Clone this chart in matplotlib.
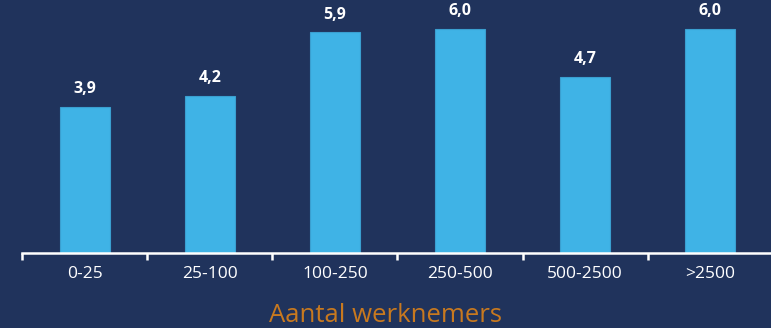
import numpy as np
import matplotlib
matplotlib.use("Agg")
import matplotlib.pyplot as plt

categories = ["0-25", "25-100", "100-250", "250-500", "500-2500", ">2500"]
values = [3.9, 4.2, 5.9, 6.0, 4.7, 6.0]
value_labels = ["3,9", "4,2", "5,9", "6,0", "4,7", "6,0"]
xlabel = "Aantal werknemers"

bg = "#20335c"
bar_color = "#3fb3e6"

plt.rcParams['font.family'] = ['Open Sans', 'DejaVu Sans']

fig = plt.figure(figsize=(7.71, 3.28), dpi=100, facecolor=bg)
ax = fig.add_axes([22 / 771, 75 / 328, 751 / 771, 253 / 328])
ax.set_facecolor(bg)

x = np.arange(len(categories))
bars = ax.bar(x, values, width=0.4, color=bar_color, edgecolor="#3a9fd0", linewidth=0.8)
for b, lab in zip(bars, value_labels):
    ax.annotate(lab, (b.get_x() + b.get_width() / 2, b.get_height()),
                xytext=(0, 7), textcoords="offset points", ha="center", va="bottom",
                color="white", fontsize=11.5, fontweight="bold")

ax.set_xlim(-0.5, len(categories) - 0.5)
ax.set_ylim(0, 253 / 37.4)

for s in ["top", "right", "left"]:
    ax.spines[s].set_visible(False)
ax.spines["bottom"].set_color("white")
ax.spines["bottom"].set_linewidth(1.8)
ax.set_yticks([])

ax.set_xticks(np.arange(-0.5, len(categories)), minor=False)
ax.set_xticklabels([])
ax.tick_params(axis="x", which="major", length=5, width=1.8, color="white", direction="out")
ax.set_xticks(x, minor=True)
ax.set_xticklabels(categories, minor=True)
ax.tick_params(axis="x", which="minor", length=0, pad=9, labelsize=12.5, labelcolor="white")

fig.text(0.5, 1 - 316 / 328, xlabel, ha="center", va="center", color="#c8791f", fontsize=18.5)

fig.savefig("out.png", dpi=100, facecolor=bg)
